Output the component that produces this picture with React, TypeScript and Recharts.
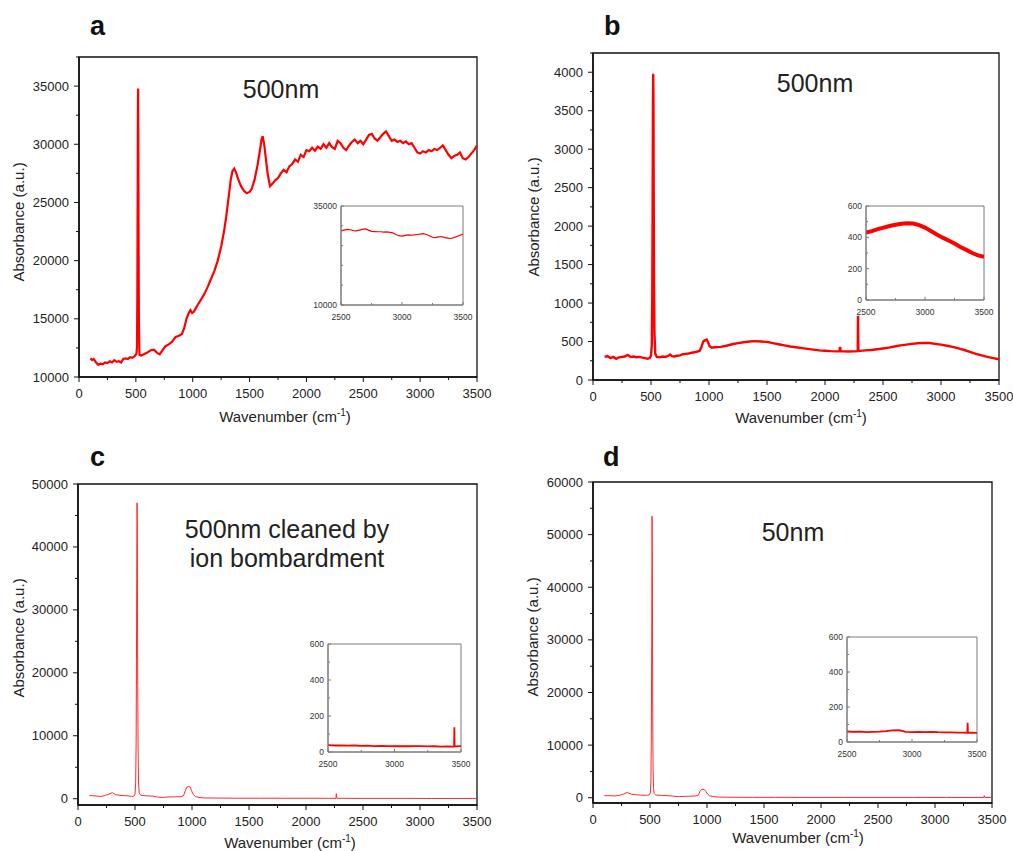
import React from "react";
import { LineChart, Line, XAxis, YAxis, ReferenceArea } from "recharts";

type Pt = [number, number];

// panel a: 500nm
const specA: Pt[] = [
  [100, 11600], [115, 11450], [130, 11550], [150, 11250], [170, 11050], [190, 11150], [210, 11100],
  [230, 11250], [250, 11200], [270, 11350], [290, 11250], [310, 11450], [330, 11300], [350, 11350],
  [370, 11250], [390, 11550], [410, 11600], [430, 11550], [450, 11700], [470, 11650], [490, 11800],
  [505, 12000], [510, 12600], [513, 17000], [516, 26000], [518, 32500], [520, 34800], [522, 30500],
  [524, 22000], [527, 14500], [532, 11900], [545, 11850], [570, 11950], [600, 12100], [630, 12300],
  [660, 12350], [690, 12050], [710, 11950], [730, 12250], [760, 12650], [790, 12800], [820, 13050],
  [850, 13450], [880, 13550], [905, 13700], [925, 14200], [945, 15000], [965, 15500], [980, 15750],
  [995, 15500], [1010, 15600], [1040, 16150], [1070, 16600], [1100, 17100], [1130, 17700], [1160, 18400],
  [1190, 19100], [1220, 20000], [1250, 21200], [1275, 22500], [1295, 23800], [1315, 25400], [1335, 27000],
  [1350, 27700], [1365, 27900], [1380, 27600], [1400, 27000], [1425, 26400], [1450, 26000], [1475, 25800],
  [1500, 25900], [1520, 26200], [1545, 27000], [1570, 28200], [1590, 29400], [1605, 30400], [1615, 30700],
  [1630, 29900], [1645, 28600], [1660, 27400], [1680, 26400], [1700, 26600], [1725, 26900], [1750, 27100],
  [1775, 27500], [1800, 27800], [1825, 27600], [1850, 28100], [1875, 28300], [1900, 28700], [1925, 28500],
  [1950, 29100], [1975, 28900], [2000, 29500], [2025, 29400], [2050, 29700], [2075, 29450], [2100, 29800],
  [2125, 29600], [2150, 30000], [2175, 29700], [2200, 30100], [2225, 29750], [2250, 29600], [2275, 30300],
  [2300, 30100], [2325, 29700], [2350, 29500], [2375, 29900], [2400, 30200], [2425, 30400], [2450, 30100],
  [2475, 30300], [2500, 30000], [2525, 30400], [2550, 30800], [2575, 30900], [2600, 30500], [2625, 30300],
  [2650, 30600], [2675, 30900], [2700, 31100], [2725, 30700], [2750, 30300], [2775, 30400], [2800, 30200],
  [2825, 30300], [2850, 30100], [2875, 30250], [2900, 30000], [2925, 30100], [2950, 29700], [2975, 29300],
  [3000, 29200], [3025, 29400], [3050, 29300], [3075, 29500], [3100, 29400], [3125, 29600], [3150, 29500],
  [3175, 29700], [3200, 29900], [3225, 29500], [3250, 29100], [3275, 28800], [3300, 29000], [3325, 29100],
  [3350, 29300], [3375, 28800], [3400, 28700], [3425, 28900], [3450, 29200], [3475, 29500], [3500, 29900],
];

const insetA: Pt[] = [
  [2500, 28700], [2525, 28900], [2550, 29100], [2575, 29000], [2600, 28800], [2625, 28700], [2650, 28900],
  [2675, 29100], [2700, 29200], [2725, 28900], [2750, 28600], [2775, 28550], [2800, 28500], [2825, 28500],
  [2850, 28400], [2875, 28450], [2900, 28350], [2925, 28200], [2950, 27800], [2975, 27500], [3000, 27400],
  [3025, 27600], [3050, 27700], [3075, 27650], [3100, 27700], [3125, 27800], [3150, 27900], [3175, 28000],
  [3200, 27800], [3225, 27500], [3250, 27100], [3275, 27000], [3300, 27200], [3325, 27300], [3350, 27000],
  [3375, 26900], [3400, 26800], [3425, 27000], [3450, 27300], [3475, 27600], [3500, 27900],
];

// panel b: 500nm
const specB: Pt[] = [
  [100, 300], [125, 310], [150, 285], [175, 300], [200, 275], [225, 295], [250, 300], [275, 305],
  [300, 325], [325, 300], [350, 305], [375, 295], [400, 300], [425, 290], [450, 285], [470, 275],
  [490, 285], [500, 320], [507, 450], [511, 1100], [514, 2200], [517, 3600], [519, 3980], [521, 3700],
  [523, 2600], [526, 1300], [530, 600], [537, 340], [550, 300], [575, 295], [600, 305], [625, 300],
  [650, 315], [665, 330], [680, 310], [700, 305], [725, 315], [750, 320], [775, 335], [800, 340],
  [825, 345], [850, 355], [875, 360], [900, 370], [920, 380], [935, 430], [950, 500], [965, 515],
  [980, 525], [992, 490], [1005, 440], [1025, 420], [1050, 425], [1100, 430], [1150, 445], [1200, 465],
  [1250, 480], [1300, 490], [1350, 500], [1400, 505], [1450, 500], [1500, 495], [1550, 480], [1600, 465],
  [1650, 450], [1700, 435], [1750, 425], [1800, 415], [1850, 405], [1900, 395], [1950, 385], [2000, 380],
  [2050, 375], [2100, 372], [2125, 375], [2130, 430], [2135, 375], [2200, 370], [2250, 372], [2282, 375],
  [2285, 835], [2288, 378], [2300, 378], [2350, 385], [2400, 390], [2450, 400], [2500, 410], [2550, 420],
  [2600, 435], [2650, 450], [2700, 460], [2750, 470], [2800, 478], [2850, 482], [2900, 480], [2950, 470],
  [3000, 460], [3050, 445], [3100, 430], [3150, 410], [3200, 390], [3250, 365], [3300, 340], [3350, 320],
  [3400, 300], [3450, 285], [3500, 270],
];

const insetB: Pt[] = [
  [2500, 430], [2550, 440], [2600, 452], [2650, 462], [2700, 472], [2750, 480], [2800, 487], [2850, 490],
  [2900, 488], [2950, 478], [3000, 462], [3050, 440], [3100, 418], [3150, 398], [3200, 380], [3250, 360],
  [3300, 338], [3350, 320], [3400, 300], [3450, 285], [3500, 275],
];

// panel c: 500nm cleaned by ion bombardment
const specC: Pt[] = [
  [100, 500], [150, 450], [200, 350], [230, 500], [260, 650], [290, 850], [300, 1000], [310, 850],
  [330, 650], [360, 550], [400, 500], [440, 450], [470, 350], [490, 400], [500, 700], [506, 2500],
  [510, 9000], [513, 22000], [515, 35000], [517, 43000], [518, 47000], [520, 44000], [522, 30000],
  [524, 18000], [527, 8000], [531, 2500], [537, 900], [550, 550], [600, 450], [650, 420], [700, 250],
  [750, 200], [800, 280], [850, 300], [900, 320], [925, 450], [940, 1200], [955, 1850], [970, 1950],
  [985, 1850], [995, 1300], [1010, 700], [1030, 350], [1060, 200], [1100, 120], [1200, 100], [1400, 80],
  [1600, 80], [1800, 70], [2000, 70], [2200, 60], [2262, 60], [2266, 800], [2270, 60], [2500, 50],
  [2800, 50], [3100, 40], [3500, 40],
];

const insetC: Pt[] = [
  [2500, 38], [2550, 36], [2600, 37], [2650, 35], [2700, 36], [2750, 34], [2800, 35], [2850, 33],
  [2900, 34], [2950, 33], [3000, 32], [3050, 33], [3100, 32], [3150, 33], [3200, 33], [3250, 31],
  [3300, 32], [3350, 30], [3400, 31], [3448, 30], [3450, 138], [3452, 31], [3500, 33],
];

// panel d: 50nm
const specD: Pt[] = [
  [100, 400], [150, 380], [200, 350], [240, 500], [270, 700], [290, 900], [300, 1050], [315, 850],
  [340, 650], [380, 550], [420, 500], [460, 450], [490, 500], [503, 900], [508, 3000], [512, 12000],
  [515, 30000], [517, 45000], [518, 53500], [520, 48000], [522, 33000], [524, 16000], [527, 5500],
  [531, 1800], [537, 800], [550, 500], [600, 450], [650, 400], [700, 300], [750, 200], [800, 250],
  [850, 300], [900, 330], [925, 500], [940, 1300], [955, 1600], [975, 1600], [990, 1200], [1005, 700],
  [1025, 350], [1060, 200], [1100, 120], [1200, 90], [1400, 70], [1600, 70], [1800, 60], [2000, 60],
  [2200, 60], [2500, 55], [2800, 55], [3100, 50], [3428, 50], [3432, 400], [3436, 50], [3500, 45],
];

const insetD: Pt[] = [
  [2500, 60], [2550, 58], [2600, 59], [2650, 57], [2700, 58], [2750, 59], [2800, 62], [2850, 66],
  [2900, 67], [2925, 64], [2950, 58], [3000, 57], [3050, 58], [3100, 57], [3150, 58], [3200, 56],
  [3250, 55], [3300, 55], [3350, 54], [3400, 54], [3426, 53], [3428, 110], [3430, 53], [3450, 53],
  [3500, 52],
];

// tick values
const mainXTicks = [0, 250, 500, 750, 1000, 1250, 1500, 1750, 2000, 2250, 2500, 2750, 3000, 3250, 3500];
const insetXTicks = [2500, 2750, 3000, 3250, 3500];
const aYTicks = [10000, 12500, 15000, 17500, 20000, 22500, 25000, 27500, 30000, 32500, 35000, 37500];
const bYTicks = [0, 250, 500, 750, 1000, 1250, 1500, 1750, 2000, 2250, 2500, 2750, 3000, 3250, 3500, 3750, 4000, 4250];
const cYTicks = [0, 5000, 10000, 15000, 20000, 25000, 30000, 35000, 40000, 45000, 50000];
const dYTicks = [0, 5000, 10000, 15000, 20000, 25000, 30000, 35000, 40000, 45000, 50000, 55000, 60000];
const aInsetYTicks = [10000, 15000, 20000, 25000, 30000, 35000];
const lowInsetYTicks = [0, 100, 200, 300, 400, 500, 600];

const FONT = '"Liberation Sans", Arial, Helvetica, sans-serif';
const RED = "#ff0000";

type Box = { x: number; y: number; w: number; h: number };

type PlotProps = {
  box: Box;
  data: Pt[];
  xDomain: [number, number];
  yDomain: [number, number];
  xTicks: number[];
  yTicks: number[];
  xMajor: (v: number) => boolean;
  yMajor: (v: number) => boolean;
  stroke: string;
  width: number;
  inset?: boolean;
};

function Plot({ box, data, xDomain, yDomain, xTicks, yTicks, xMajor, yMajor, stroke, width, inset }: PlotProps) {
  const yw = inset ? 34 : 64;
  const mt = 6;
  const mr = inset ? 16 : 26;
  const xh = inset ? 20 : 30;
  const axisColor = inset ? "#7a7a7a" : "#111";
  const textColor = inset ? "#333" : "#222";
  const fs = inset ? 8.5 : 13;
  const majLen = inset ? 3 : 5;
  const minLen = inset ? 2 : 3;
  const dir = inset ? -1 : 1;
  const rows = data.map(([x, y]) => ({ x, y }));

  const xTick = (p: any) => {
    const v = p.payload.value;
    const major = xMajor(v);
    return (
      <g>
        <line x1={p.x} x2={p.x} y1={p.y} y2={p.y + dir * (major ? majLen : minLen)} stroke={axisColor} strokeWidth={1} />
        {major && (
          <text x={p.x} y={p.y + (inset ? 14.5 : 21)} textAnchor="middle" fontSize={fs} fill={textColor} fontFamily={FONT}>
            {v}
          </text>
        )}
      </g>
    );
  };

  const yTick = (p: any) => {
    const v = p.payload.value;
    const major = yMajor(v);
    return (
      <g>
        <line x1={p.x} x2={p.x - dir * (major ? majLen : minLen)} y1={p.y} y2={p.y} stroke={axisColor} strokeWidth={1} />
        {major && (
          <text x={p.x - (inset ? 4 : 10)} y={p.y} dy="0.35em" textAnchor="end" fontSize={fs} fill={textColor} fontFamily={FONT}>
            {v}
          </text>
        )}
      </g>
    );
  };

  return (
    <div style={{ position: "absolute", left: box.x - yw, top: box.y - mt }}>
      <LineChart
        width={yw + box.w + mr}
        height={mt + box.h + xh}
        data={rows}
        margin={{ top: mt, right: mr, bottom: 0, left: 0 }}
      >
        <ReferenceArea
          x1={xDomain[0]}
          x2={xDomain[1]}
          y1={yDomain[0]}
          y2={yDomain[1]}
          fill="none"
          stroke={axisColor}
          strokeWidth={inset ? 1 : 1.3}
        />
        <XAxis
          type="number"
          dataKey="x"
          domain={xDomain}
          ticks={xTicks}
          interval={0}
          tickSize={0}
          tickMargin={0}
          tickLine={false}
          tick={xTick}
          height={xh}
          axisLine={{ stroke: axisColor, strokeWidth: inset ? 1 : 1.6 }}
          allowDataOverflow
        />
        <YAxis
          type="number"
          domain={yDomain}
          ticks={yTicks}
          interval={0}
          tickSize={0}
          tickMargin={0}
          tickLine={false}
          tick={yTick}
          width={yw}
          axisLine={{ stroke: axisColor, strokeWidth: inset ? 1 : 1.6 }}
          allowDataOverflow
        />
        <Line type="linear" dataKey="y" stroke={stroke} strokeWidth={width} dot={false} isAnimationActive={false} />
      </LineChart>
    </div>
  );
}

const every = (n: number) => (v: number) => v % n === 0;
const ends = (a: number, b: number) => (v: number) => v === a || v === b;

function XTitle({ x, y }: { x: number; y: number }) {
  return (
    <text x={x} y={y} dy="0.35em" textAnchor="middle" fontSize={15} fill="#222" fontFamily={FONT}>
      Wavenumber (cm
      <tspan dy={-6} fontSize={10}>-1</tspan>
      <tspan dy={6}>)</tspan>
    </text>
  );
}

function YTitle({ x, y }: { x: number; y: number }) {
  return (
    <text transform={`translate(${x},${y}) rotate(-90)`} dy="0.35em" textAnchor="middle" fontSize={15} fill="#222" fontFamily={FONT}>
      Absorbance (a.u.)
    </text>
  );
}

export default function App() {
  const lbl = { fontSize: 25, fill: "#222", fontFamily: FONT, textAnchor: "middle" as const };
  const letter = { fontSize: 27, fontWeight: 700, fill: "#111", fontFamily: FONT };
  return (
    <div style={{ position: "absolute", left: 0, top: 0, width: 1013, height: 851, background: "#fff", overflow: "hidden" }}>
      {/* a */}
      <Plot box={{ x: 79, y: 57, w: 398, h: 320 }} data={specA} xDomain={[0, 3500]} yDomain={[10000, 37500]}
        xTicks={mainXTicks} yTicks={aYTicks} xMajor={every(500)} yMajor={every(5000)} stroke={RED} width={2.2} />
      <Plot box={{ x: 341, y: 206, w: 122, h: 99 }} data={insetA} xDomain={[2500, 3500]} yDomain={[10000, 35000]}
        xTicks={insetXTicks} yTicks={aInsetYTicks} xMajor={every(500)} yMajor={ends(10000, 35000)} stroke={RED} width={1.2} inset />

      {/* b */}
      <Plot box={{ x: 593, y: 53, w: 406, h: 327 }} data={specB} xDomain={[0, 3500]} yDomain={[0, 4250]}
        xTicks={mainXTicks} yTicks={bYTicks} xMajor={every(500)} yMajor={every(500)} stroke={RED} width={2.4} />
      <Plot box={{ x: 866, y: 206, w: 118, h: 94 }} data={insetB} xDomain={[2500, 3500]} yDomain={[0, 600]}
        xTicks={insetXTicks} yTicks={lowInsetYTicks} xMajor={every(500)} yMajor={every(200)} stroke={RED} width={4} inset />

      {/* c */}
      <Plot box={{ x: 78, y: 484, w: 399, h: 321 }} data={specC} xDomain={[0, 3500]} yDomain={[-1000, 50000]}
        xTicks={mainXTicks} yTicks={cYTicks} xMajor={every(500)} yMajor={every(10000)} stroke="#ff2a2a" width={1} />
      <Plot box={{ x: 328, y: 644, w: 133, h: 108 }} data={insetC} xDomain={[2500, 3500]} yDomain={[0, 600]}
        xTicks={insetXTicks} yTicks={lowInsetYTicks} xMajor={every(500)} yMajor={every(200)} stroke={RED} width={1.8} inset />

      {/* d */}
      <Plot box={{ x: 593, y: 482, w: 399, h: 321 }} data={specD} xDomain={[0, 3500]} yDomain={[-1000, 60000]}
        xTicks={mainXTicks} yTicks={dYTicks} xMajor={every(500)} yMajor={every(10000)} stroke="#ff2a2a" width={1} />
      <Plot box={{ x: 847, y: 637, w: 130, h: 105 }} data={insetD} xDomain={[2500, 3500]} yDomain={[0, 600]}
        xTicks={insetXTicks} yTicks={lowInsetYTicks} xMajor={every(500)} yMajor={every(200)} stroke={RED} width={1.8} inset />

      <svg width={1013} height={851} style={{ position: "absolute", left: 0, top: 0, pointerEvents: "none" }}>
        <text x={90} y={35} {...letter}>a</text>
        <text x={604} y={35} {...letter}>b</text>
        <text x={90} y={466} {...letter}>c</text>
        <text x={603} y={466} {...letter}>d</text>

        <text x={281} y={98} {...lbl}>500nm</text>
        <text x={815} y={92} {...lbl}>500nm</text>
        <text x={287} y={538} {...lbl}>500nm cleaned by</text>
        <text x={287} y={567} {...lbl}>ion bombardment</text>
        <text x={793} y={541} {...lbl}>50nm</text>

        <XTitle x={285} y={417} />
        <XTitle x={801} y={418} />
        <XTitle x={290} y={843} />
        <XTitle x={798} y={838} />
        <YTitle x={19} y={222} />
        <YTitle x={534} y={217} />
        <YTitle x={19} y={638} />
        <YTitle x={533} y={637} />
      </svg>
    </div>
  );
}
